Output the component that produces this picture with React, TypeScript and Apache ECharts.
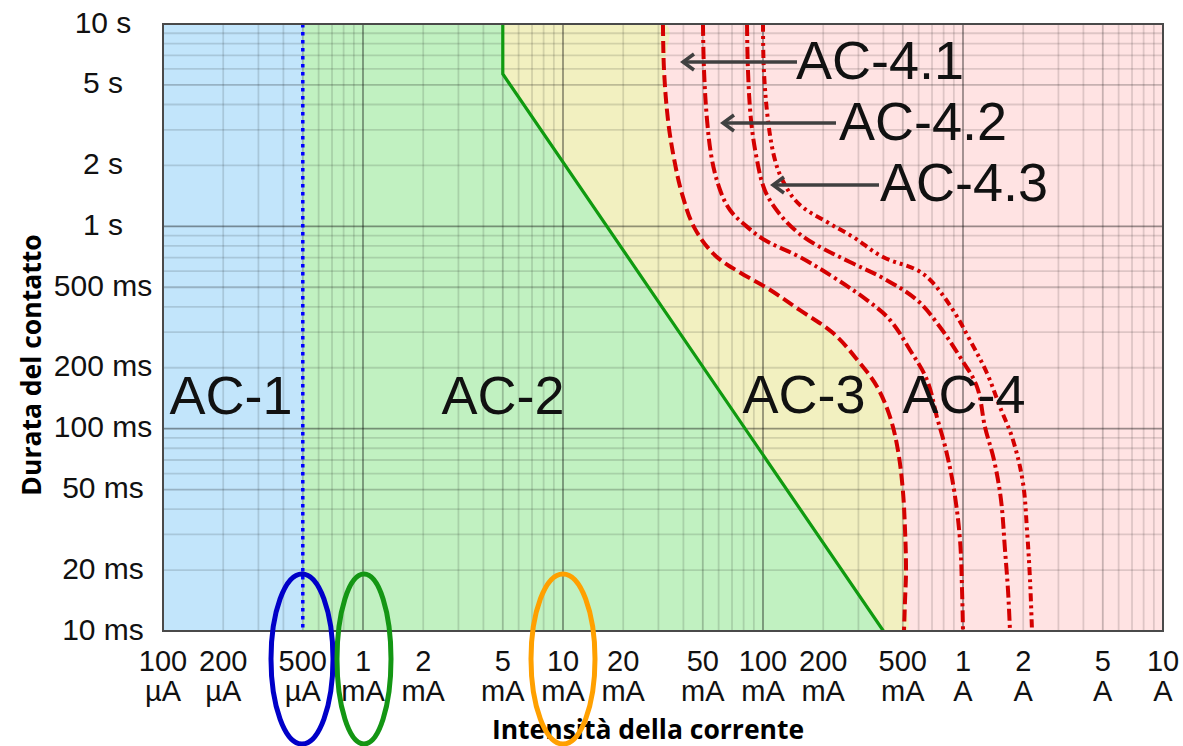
import React, { useEffect, useRef } from "react";
import * as echarts from "echarts";

// ---- axis ranges (mA on x, ms on y) ----
const xMin = 0.1;
const xMax = 10000;
const yMin = 10;
const yMax = 10000;

// ---- tick labels ----
const xTickValues = [0.1, 0.2, 0.5, 1, 2, 5, 10, 20, 50, 100, 200, 500, 1000, 2000, 5000, 10000];
const xTickLabels = [
  "100\nµA", "200\nµA", "500\nµA", "1\nmA", "2\nmA", "5\nmA", "10\nmA", "20\nmA",
  "50\nmA", "100\nmA", "200\nmA", "500\nmA", "1\nA", "2\nA", "5\nA", "10\nA",
];
const yTickValues = [10, 20, 50, 100, 200, 500, 1000, 2000, 5000, 10000];
const yTickLabels = ["10 ms", "20 ms", "50 ms", "100 ms", "200 ms", "500 ms", "1 s", "2 s", "5 s", "10 s"];

// ---- grid structure ----
const gridDecadesX = [0.1, 1, 10, 100, 1000];
const gridDecadesY = [10, 100, 1000];
const gridMultipliers = [1, 2, 3, 4, 5, 6, 7, 8, 9];

// ---- zone boundaries [current mA, time ms] ----
const boundaryA = [[0.5, 10000], [0.5, 10]];
const boundaryB = [[5, 10000], [5, 5660], [400, 10]];
const curveC1 = [
  [31.6, 10000], [32, 5900], [33.5, 3350], [36, 2130], [39.5, 1430], [45.5, 980], [57.5, 720],
  [77, 590], [105, 495], [153, 385], [224, 297], [305, 211], [372, 161], [432, 114], [473, 78],
  [500, 50], [513, 31.6], [519, 20], [513, 14.2], [507, 10],
];
const curveC2 = [
  [50.1, 10000], [50.7, 5925], [52.5, 3354], [55.6, 2127], [61, 1512], [68.4, 1204], [81.3, 1015],
  [102, 856], [153, 705], [224, 562], [331, 432], [431, 345], [543, 245], [661, 174], [741, 114],
  [822, 78.4], [902, 49.8], [966, 28.2], [989, 15.9], [1000, 10],
];
const curveC3 = [
  [83.2, 10000], [84.1, 5925], [87.1, 3354], [93.3, 2127], [102, 1512], [118.9, 1177], [144.5, 959],
  [177.8, 827], [272, 666], [398, 555], [589, 432], [767, 318], [966, 226], [1175, 161], [1288, 102],
  [1429, 70], [1549, 44.4], [1622, 25.1], [1679, 15.9], [1718, 10],
];
const curveC4 = [
  [100, 10000], [101, 5925], [105.9, 3354], [114.8, 2127], [128.8, 1601], [153, 1275], [209, 1050],
  [282, 886], [398, 705], [589, 608], [708, 525], [891, 386], [1083, 274], [1318, 188], [1531, 128],
  [1778, 87.9], [1995, 53.9], [2089, 31.6], [2163, 17.9], [2213, 10],
];

// ---- zone labels ----
const zoneLabels = ["AC-1", "AC-2", "AC-3", "AC-4"];
const subZoneLabels = ["AC-4.1", "AC-4.2", "AC-4.3"];

const FONT = "'Liberation Sans', Arial, sans-serif";
const GRID = { left: 163, top: 24, width: 1000, height: 607 };
const SMOOTH = 0.35;

function fillSeries(name: string, pts: number[][], color: string, z: number, smooth = 0) {
  return {
    type: "custom",
    name,
    coordinateSystem: "cartesian2d",
    clip: true,
    silent: true,
    z,
    data: [pts[0]],
    renderItem: (_p: any, api: any) => ({
      type: "polygon",
      shape: { points: pts.map((v) => api.coord(v)), smooth },
      style: { fill: color, stroke: "none" },
    }),
  };
}

function curveSeries(name: string, pts: number[][], color: string, width: number, dash: number[] | null, z: number, smooth = 0) {
  return {
    type: "custom",
    name,
    coordinateSystem: "cartesian2d",
    clip: true,
    silent: true,
    z,
    data: [pts[0]],
    renderItem: (_p: any, api: any) => ({
      type: "polyline",
      shape: { points: pts.map((v) => api.coord(v)), smooth },
      style: { fill: "none", stroke: color, lineWidth: width, lineDash: dash || undefined },
    }),
  };
}

function buildOption() {
  const corner = [[xMin, yMax], [xMax, yMax], [xMax, yMin], [xMin, yMin]];
  const yellowPts = [[xMin, yMax], ...curveC1, [xMin, yMin]];
  const greenPts = [[xMin, yMax], ...boundaryB, [xMin, yMin]];
  const bluePts = [[xMin, yMax], ...boundaryA, [xMin, yMin]];

  const gridColors: Record<string, string> = {
    minor: "rgba(0,0,0,0.13)",
    five: "rgba(0,0,0,0.22)",
    decade: "rgba(0,0,0,0.40)",
  };
  const level = (m: number) => (m === 1 ? "decade" : m === 5 ? "five" : "minor");
  const xGrid: [number, string][] = [];
  gridDecadesX.forEach((d) => gridMultipliers.forEach((m) => xGrid.push([d * m, level(m)])));
  const yGrid: [number, string][] = [];
  gridDecadesY.forEach((d) => gridMultipliers.forEach((m) => yGrid.push([d * m, level(m)])));

  const gridSeries = {
    type: "custom",
    name: "grid",
    coordinateSystem: "cartesian2d",
    silent: true,
    z: 5,
    data: [[1, 100]],
    renderItem: (_p: any, api: any) => {
      const children: any[] = [];
      xGrid.forEach(([v, l]) => {
        if (v <= xMin || v >= xMax) return;
        const a = api.coord([v, yMin]);
        const b = api.coord([v, yMax]);
        children.push({ type: "line", shape: { x1: a[0], y1: a[1], x2: b[0], y2: b[1] }, style: { stroke: gridColors[l], lineWidth: 1.8 } });
      });
      yGrid.forEach(([v, l]) => {
        if (v <= yMin || v >= yMax) return;
        const a = api.coord([xMin, v]);
        const b = api.coord([xMax, v]);
        children.push({ type: "line", shape: { x1: a[0], y1: a[1], x2: b[0], y2: b[1] }, style: { stroke: gridColors[l], lineWidth: 1.8 } });
      });
      return { type: "group", children };
    },
  };

  const borderSeries = {
    type: "custom",
    name: "border",
    coordinateSystem: "cartesian2d",
    silent: true,
    z: 9,
    data: [[1, 100]],
    renderItem: (_p: any, api: any) => {
      const a = api.coord([xMin, yMax]);
      const b = api.coord([xMax, yMin]);
      return {
        type: "rect",
        shape: { x: a[0], y: a[1], width: b[0] - a[0], height: b[1] - a[1] },
        style: { fill: "none", stroke: "#4a4a4a", lineWidth: 2 },
      };
    },
  };

  const xLabelSeries = {
    type: "custom",
    name: "xLabels",
    coordinateSystem: "cartesian2d",
    silent: true,
    z: 10,
    data: xTickValues.map((v) => [v, yMin]),
    renderItem: (p: any, api: any) => {
      const pt = api.coord([api.value(0), api.value(1)]);
      return {
        type: "text",
        x: pt[0],
        y: pt[1] + 15,
        style: {
          text: xTickLabels[p.dataIndex],
          font: `29px ${FONT}`,
          fill: "#111",
          align: "center",
          verticalAlign: "top",
          lineHeight: 30,
        },
      };
    },
  };

  const yLabelSeries = {
    type: "custom",
    name: "yLabels",
    coordinateSystem: "cartesian2d",
    silent: true,
    z: 10,
    data: yTickValues.map((v) => [xMin, v]),
    renderItem: (p: any, api: any) => {
      const pt = api.coord([api.value(0), api.value(1)]);
      return {
        type: "text",
        x: pt[0] - 60,
        y: pt[1] - 2,
        style: {
          text: yTickLabels[p.dataIndex],
          font: `30px ${FONT}`,
          fill: "#111",
          align: "center",
          verticalAlign: "middle",
        },
      };
    },
  };

  const bigFont = `54px ${FONT}`;
  const arrowLine = (tipX: number, tailX: number, y: number) => ({
    type: "line",
    z: 20,
    shape: { x1: tipX + 2, y1: y, x2: tailX, y2: y },
    style: { stroke: "#404040", lineWidth: 3.5 },
  });
  const arrowHead = (tipX: number, y: number) => ({
    type: "polyline",
    z: 20,
    shape: { points: [[tipX + 11, y - 8], [tipX, y], [tipX + 11, y + 8]] },
    style: { stroke: "#404040", lineWidth: 3.5, fill: "none" },
  });
  const bigText = (text: string, x: number, y: number) => ({
    type: "text",
    z: 20,
    x,
    y,
    style: { text, font: bigFont, fill: "#111", align: "center", verticalAlign: "middle" },
  });

  return {
    animation: false,
    backgroundColor: "#ffffff",
    grid: { ...GRID, containLabel: false, outerBoundsMode: "none" },
    xAxis: {
      type: "log",
      logBase: 10,
      min: xMin,
      max: xMax,
      axisLine: { show: false },
      axisTick: { show: false },
      axisLabel: { show: false },
      splitLine: { show: false },
    },
    yAxis: {
      type: "log",
      logBase: 10,
      min: yMin,
      max: yMax,
      axisLine: { show: false },
      axisTick: { show: false },
      axisLabel: { show: false },
      splitLine: { show: false },
    },
    series: [
      fillSeries("AC-4 zone", corner, "#ffe3e3", 1),
      fillSeries("AC-3 zone", yellowPts, "#f2f0c0", 2, SMOOTH),
      fillSeries("AC-2 zone", greenPts, "#c1f1c1", 3),
      fillSeries("AC-1 zone", bluePts, "#c2e5fb", 4),
      gridSeries,
      curveSeries("a", boundaryA, "#0000ff", 3.5, [3.5, 4.5], 6),
      curveSeries("b", boundaryB, "#109a10", 3.2, null, 6),
      curveSeries("c1", curveC1, "#d40000", 4, [12, 5], 7, SMOOTH),
      curveSeries("c2", curveC2, "#d40000", 4, [12, 4, 3, 4], 7, SMOOTH),
      curveSeries("c3", curveC3, "#d40000", 4, [12, 4, 3, 4], 7, SMOOTH),
      curveSeries("c4", curveC4, "#d40000", 4, [8, 4, 3, 4, 3, 4], 7, SMOOTH),
      borderSeries,
      xLabelSeries,
      yLabelSeries,
    ],
    graphic: [
      bigText(zoneLabels[0], 231, 395),
      bigText(zoneLabels[1], 503, 395),
      bigText(zoneLabels[2], 804, 394),
      bigText(zoneLabels[3], 964, 394),
      arrowLine(683, 797, 62),
      arrowHead(683, 62),
      arrowLine(723, 836, 123),
      arrowHead(723, 123),
      arrowLine(773, 879, 185),
      arrowHead(773, 185),
      bigText(subZoneLabels[0], 880, 60),
      bigText(subZoneLabels[1], 923, 121),
      bigText(subZoneLabels[2], 964, 182),
      {
        type: "text",
        z: 20,
        x: 31,
        y: 365,
        rotation: Math.PI / 2,
        style: {
          text: "Durata del contatto",
          font: `bold 26.5px 'Open Sans', sans-serif`,
          fill: "#000",
          align: "center",
          verticalAlign: "middle",
        },
      },
      {
        type: "text",
        z: 20,
        x: 648,
        y: 729,
        style: {
          text: "Intensità della corrente",
          font: `bold 26.5px 'Open Sans', sans-serif`,
          fill: "#000",
          align: "center",
          verticalAlign: "middle",
        },
      },
      { type: "ellipse", z: 30, shape: { cx: 302, cy: 659, rx: 31, ry: 85 }, style: { fill: "none", stroke: "#0000c8", lineWidth: 5 } },
      { type: "ellipse", z: 30, shape: { cx: 364, cy: 659, rx: 27, ry: 85 }, style: { fill: "none", stroke: "#149614", lineWidth: 5 } },
      { type: "ellipse", z: 30, shape: { cx: 563, cy: 659, rx: 32, ry: 85 }, style: { fill: "none", stroke: "#ffa000", lineWidth: 5 } },
    ],
  };
}

export default function App() {
  const ref = useRef<HTMLDivElement>(null);
  useEffect(() => {
    if (!ref.current) return;
    const chart = echarts.init(ref.current, null, { renderer: "svg" });
    chart.setOption(buildOption() as any);
    return () => chart.dispose();
  }, []);
  return (
    <div
      ref={ref}
      style={{ position: "fixed", left: 0, top: 0, width: 1183, height: 746, background: "#fff" }}
    />
  );
}
